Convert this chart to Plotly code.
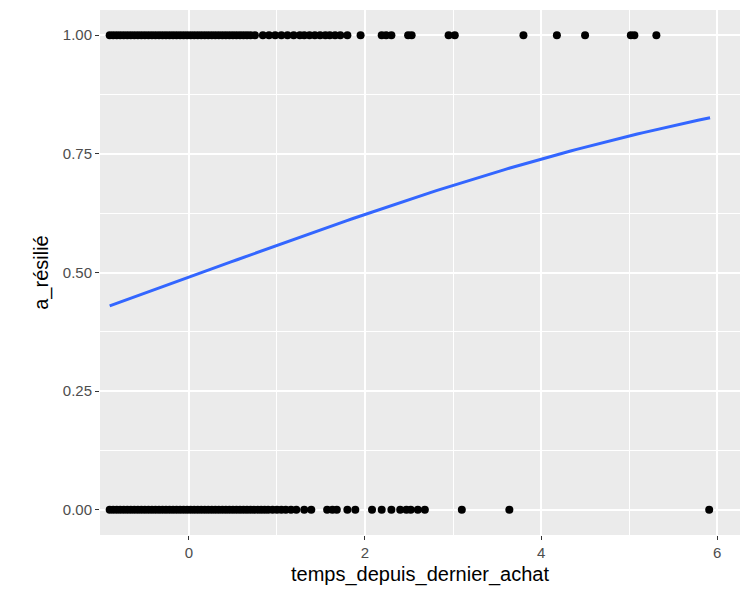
import numpy as np
import plotly.graph_objects as go

x_resilie = [-0.9,-0.86,-0.82,-0.78,-0.74,-0.7,-0.66,-0.62,-0.58,-0.54,-0.5,-0.46,-0.42,-0.38,-0.34,-0.3,-0.26,-0.22,-0.18,-0.14,-0.1,-0.06,-0.02,0.02,0.06,0.1,0.14,0.18,0.22,0.26,0.3,0.34,0.38,0.42,0.46,0.5,0.54,0.58,0.62,0.66,0.7,0.75,
             0.84,0.91,0.98,1.05,1.12,1.19,1.26,1.31,1.37,1.43,1.49,1.55,1.6,1.66,1.72,1.8,1.95,2.19,2.24,2.3,2.49,2.53,2.95,3.02,3.8,4.18,4.5,5.02,5.06,5.31]
x_non_resilie = [-0.9,-0.86,-0.82,-0.78,-0.74,-0.7,-0.66,-0.62,-0.58,-0.54,-0.5,-0.46,-0.42,-0.38,-0.34,-0.3,-0.26,-0.22,-0.18,-0.14,-0.1,-0.06,-0.02,0.02,0.06,0.1,0.14,0.18,0.22,0.26,0.3,0.34,0.38,0.42,0.46,0.5,0.54,0.58,0.62,0.66,0.7,0.74,0.78,0.82,0.86,0.9,0.95,1.0,1.05,1.1,1.16,1.22,
                 1.31,1.39,1.57,1.63,1.68,1.8,1.89,2.08,2.19,2.3,2.4,2.47,2.52,2.6,2.68,3.1,3.64,5.91]
intercept = -0.04
slope = 0.27
x_min, x_max = -0.9, 5.92

xs = np.linspace(x_min, x_max, 100)
ys = 1/(1+np.exp(-(intercept+slope*xs)))

fig = go.Figure()
fig.add_trace(go.Scatter(x=x_resilie, y=[1]*len(x_resilie), mode="markers",
                         marker=dict(color="black", size=8)))
fig.add_trace(go.Scatter(x=x_non_resilie, y=[0]*len(x_non_resilie), mode="markers",
                         marker=dict(color="black", size=8)))
fig.add_trace(go.Scatter(x=xs, y=ys, mode="lines", line=dict(color="#3366FF", width=3)))

axis_common = dict(showgrid=True, gridcolor="white", gridwidth=2, zeroline=False, automargin=False,
                   ticks="outside", ticklen=4, tickcolor="#333333",
                   tickfont=dict(size=15, color="#4D4D4D"),
                   minor=dict(showgrid=True, gridcolor="white", gridwidth=0.8))
fig.update_layout(
    width=750, height=600, showlegend=False,
    plot_bgcolor="#EBEBEB", paper_bgcolor="white",
    margin=dict(l=92, r=18, t=2, b=73),
    font=dict(family="Liberation Sans, Arial"),
    xaxis=dict(range=[-1.01, 6.26], tickvals=[0,2,4,6],
               title=dict(text="temps_depuis_dernier_achat", font=dict(size=20, color="black"), standoff=6),
               **axis_common),
    yaxis=dict(range=[-0.053, 1.053], tickvals=[0,0.25,0.5,0.75,1],
               ticktext=["0.00","0.25","0.50","0.75","1.00"],
               title=dict(text="a_résilié", font=dict(size=20, color="black"), standoff=8),
               **axis_common),
)
fig.update_xaxes(minor=dict(tickvals=[-1,1,3,5]))
fig.update_yaxes(minor=dict(tickvals=[0.125,0.375,0.625,0.875]))
fig.write_html("out.html")
